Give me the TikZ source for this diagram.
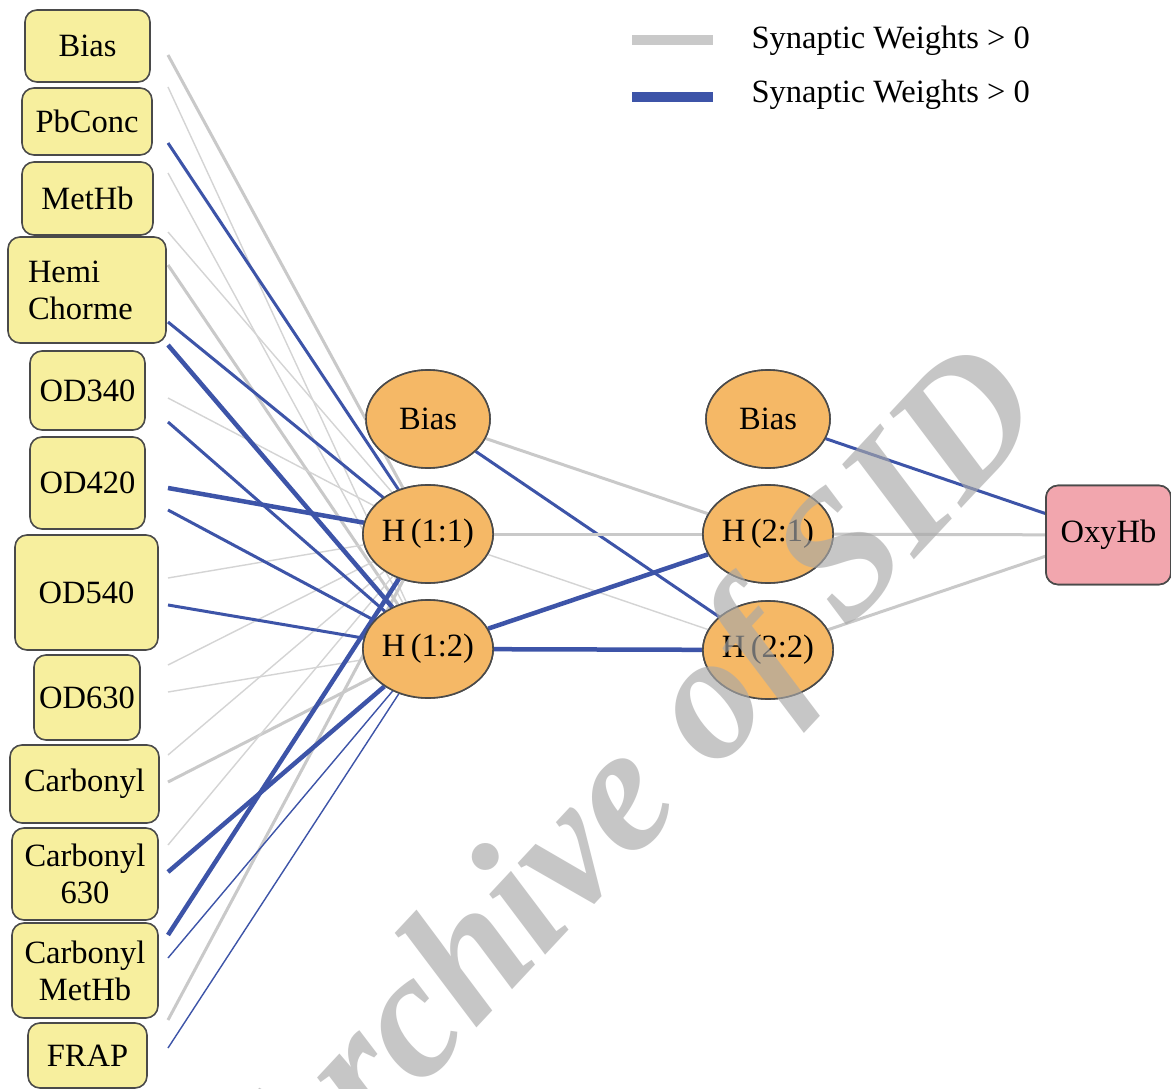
\documentclass[tikz,border=0pt]{standalone}
\usepackage{fontspec}
\setmainfont{Liberation Serif}
\newfontfamily\wmfont{Liberation Serif}
\usetikzlibrary{shapes.geometric}
\definecolor{boxy}{HTML}{F7EF9E}
\definecolor{hidy}{HTML}{F5B866}
\definecolor{outy}{HTML}{F2A6AE}
\definecolor{edgy}{HTML}{4A4A4A}
\definecolor{gw}{HTML}{C9C9C9}
\definecolor{gwl}{HTML}{D4D4D4}
\definecolor{bw}{HTML}{3D54A8}
\definecolor{wmc}{HTML}{A8A8A8}
\begin{document}
\begin{tikzpicture}[x=1pt,y=-1pt,
  txt/.style={font=\fontsize{32.5}{37}\selectfont},
  inbox/.style={txt,draw=edgy,line width=1.6pt,fill=boxy,rounded corners=12pt,inner sep=0pt},
  hid/.style={txt,ellipse,draw=edgy,line width=1.6pt,fill=hidy,minimum width=124pt,minimum height=98pt,inner sep=0pt},
  outbox/.style={txt,draw=edgy,line width=1.6pt,fill=outy,rounded corners=12pt,minimum width=125pt,minimum height=99pt,inner sep=0pt},
  gA/.style={draw=gw,line width=3pt},
  gB/.style={draw=gwl,line width=1.4pt},
  bA/.style={draw=bw,line width=4.5pt},
  bB/.style={draw=bw,line width=3pt},
  bC/.style={draw=bw,line width=1.4pt},
  lgg/.style={draw=gw,line width=10pt},
  lgb/.style={draw=bw,line width=10pt},
  wm/.style={font=\wmfont\bfseries\itshape\fontsize{179}{179}\selectfont,text=wmc,opacity=0.65}
]
\useasboundingbox[fill=white] (0,0) rectangle (1171,1089);

% input nodes
\node[inbox,minimum width=125pt,minimum height=72pt] (iBias) at (87.5,46) {Bias};
\node[inbox,minimum width=130pt,minimum height=67pt] (iPb) at (87,121.5) {PbConc};
\node[inbox,minimum width=131pt,minimum height=73pt] (iMet) at (87.5,198.5) {MetHb};
\node[inbox,minimum width=158pt,minimum height=106pt,align=left,text width=118pt] (iHemi) at (87,290) {Hemi\\Chorme};
\node[inbox,minimum width=115pt,minimum height=79pt] (i340) at (87.5,390.5) {OD340};
\node[inbox,minimum width=115pt,minimum height=92pt] (i420) at (87.5,483) {OD420};
\node[inbox,minimum width=143pt,minimum height=115pt] (i540) at (86.5,592.5) {OD540};
\node[inbox,minimum width=106pt,minimum height=85pt] (i630) at (87,697.5) {OD630};
\node[inbox,minimum width=149pt,minimum height=78pt] (iCarb) at (84.5,784) {Carbonyl};
\node[inbox,minimum width=146pt,minimum height=92pt,align=center] (iC630) at (85,874) {Carbonyl\\630};
\node[inbox,minimum width=146pt,minimum height=95pt,align=center] (iCMet) at (85,970.5) {Carbonyl\\MetHb};
\node[inbox,minimum width=119pt,minimum height=65pt] (iFrap) at (87.5,1055.5) {FRAP};

% hidden layers
\node[hid] (b1) at (428,419) {Bias};
\node[hid] (h11) at (428,534) {H\,(1:1)};
\node[hid] (h12) at (428,649) {H\,(1:2)};
\node[hid] (b2) at (768,419) {Bias};
\node[hid] (h21) at (768,534) {H\,(2:1)};
\node[hid] (h22) at (768,650) {H\,(2:2)};
\node[outbox] (out) at (1108.5,535) {OxyHb};

% free line ends near the inputs
\foreach \n/\y in {s1/55,s2/87,s3/143,s4/173,s5/232,s6/265,s7/322,s8/345,
                   s9/398,s10/422,s11/488,s12/510,s13/578,s14/605,s15/665,s16/692,
                   s17/755,s18/782,s19/845,s20/872,s21/935,s22/958,s23/1020,s24/1048}
  \coordinate (\n) at (168,\y);

% input -> hidden 1 (gray first)
\draw[gA] (s1) -- (h11);
\draw[gB] (s2) -- (h12);
\draw[gB] (s4) -- (h12);
\draw[gB] (s5) -- (h11);
\draw[gA] (s6) -- (h12);
\draw[gB] (s9) -- (h11);
\draw[gB] (s13) -- (h11);
\draw[gB] (s15) -- (h11);
\draw[gB] (s16) -- (h12);
\draw[gB] (s17) -- (h11);
\draw[gA] (s18) -- (h12);
\draw[gB] (s19) -- (h11);
\draw[gA] (s23) -- (h11);
% blue
\draw[bB] (s3) -- (h11);
\draw[bB] (s7) -- (h11);
\draw[bA] (s8) -- (h12);
\draw[bB] (s10) -- (h12);
\draw[bA] (s11) -- (h11);
\draw[bB] (s12) -- (h12);
\draw[bB] (s14) -- (h12);
\draw[bA] (s20) -- (h12);
\draw[bA] (s21) -- (h11);
\draw[bC] (s22) -- (h12);
\draw[bC] (s24) -- (h12);

% hidden 1 -> hidden 2
\draw[gA] (b1) -- (h21);
\draw[bB] (b1) -- (h22);
\draw[gA] (h11) -- (h21);
\draw[gB] (h11) -- (h22);
\draw[bA] (h12) -- (h21);
\draw[bA] (h12) -- (h22);
% hidden 2 -> output
\draw[bB] (b2) -- (out);
\draw[gA] (h21) -- (out);
\draw[gA] (h22) -- (out);

% redraw nodes on top of the lines
\node[hid] at (b1) {Bias};
\node[hid] at (h11) {H\,(1:1)};
\node[hid] at (h12) {H\,(1:2)};
\node[hid] at (b2) {Bias};
\node[hid] at (h21) {H\,(2:1)};
\node[hid] at (h22) {H\,(2:2)};
\node[outbox] at (out) {OxyHb};

% legend
\coordinate (lg1a) at (632,40); \coordinate (lg1b) at (713,40);
\coordinate (lg2a) at (632,97); \coordinate (lg2b) at (713,97);
\draw[lgg] (lg1a) -- (lg1b);
\draw[lgb] (lg2a) -- (lg2b);
\node[txt,anchor=west] (lt1) at (748,41) {Synaptic Weights > 0};
\node[txt,anchor=west] (lt2) at (748,95) {Synaptic Weights > 0};

% watermark
\node[wm,rotate=47] (wmk) at (639,790) {Archive of SID};
\end{tikzpicture}
\end{document}
